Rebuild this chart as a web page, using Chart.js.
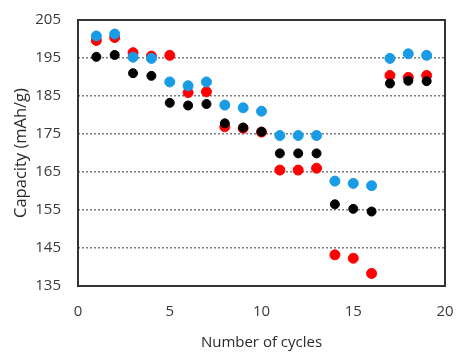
<!DOCTYPE html>
<html>
<head>
<meta charset="utf-8">
<script src="https://cdn.jsdelivr.net/npm/chart.js@4"></script>
<style>
  html, body { margin: 0; padding: 0; background: #fff; }
  #wrap { width: 456px; height: 354px; }
</style>
</head>
<body>
<div id="wrap"><canvas id="chart" width="456" height="354"></canvas></div>
<script>
const cycles = [1, 2, 3, 4, 5, 6, 7, 8, 9, 10, 11, 12, 13, 14, 15, 16, 17, 18, 19];
const blackSeries = [195.3, 195.8, 191.0, 190.3, 183.2, 182.5, 182.9, 177.8, 176.7, 175.6, 169.9, 169.9, 169.9, 156.5, 155.3, 154.6, 188.3, 189.0, 188.9];
const redSeries = [199.6, 200.4, 196.4, 195.5, 195.7, 185.9, 186.1, 176.9, 176.5, 175.5, 165.5, 165.5, 166.0, 143.2, 142.3, 138.3, 190.4, 189.9, 190.4];
const blueSeries = [200.8, 201.3, 195.2, 194.9, 188.7, 187.7, 188.7, 182.6, 181.9, 181.0, 174.6, 174.6, 174.6, 162.6, 162.0, 161.4, 194.9, 196.1, 195.7];
const yTicks = [135, 145, 155, 165, 175, 185, 195, 205];

const toPoints = vals => vals.map((v, i) => ({x: cycles[i], y: v}));

// box round the plot area, like the spreadsheet frame
const frameBox = {
    id: 'frameBox',
    afterDraw(chart) {
        const {ctx, chartArea: a} = chart;
        ctx.save();
        ctx.strokeStyle = '#333';
        ctx.lineWidth = 2;
        ctx.strokeRect(a.left, a.top, a.right - a.left, a.bottom - a.top);
        ctx.restore();
    }
};

const tickFont = {family: 'Open Sans', size: 15};

new Chart(document.getElementById('chart').getContext('2d'), {
    type: 'scatter',
    data: {
        datasets: [
            {label: 'black', data: toPoints(blackSeries), backgroundColor: '#000', borderColor: '#000', pointRadius: 4.5, order: 2},
            {label: 'red', data: toPoints(redSeries), backgroundColor: '#ff0000', borderColor: '#ff0000', pointRadius: 5, order: 3},
            {label: 'blue', data: toPoints(blueSeries), backgroundColor: '#1a9be6', borderColor: '#1a9be6', pointRadius: 5, order: 1}
        ]
    },
    options: {
        responsive: false,
        animation: false,
        layout: {padding: {left: 11, right: 11, top: 20, bottom: 2}},
        plugins: {legend: {display: false}, tooltip: {enabled: false}},
        scales: {
            x: {
                type: 'linear', min: 0, max: 20,
                afterFit: axis => { axis.height = 66; axis.paddingRight = 0; axis.paddingLeft = 0; },
                ticks: {stepSize: 5, color: '#3a3a3a', font: tickFont, padding: 17},
                grid: {display: false, drawTicks: false},
                border: {display: false},
                title: {display: true, text: 'Number of cycles', color: '#2a2a2a', font: {family: 'Open Sans', size: 15}, padding: {top: 0, bottom: 0}}
            },
            y: {
                min: 135, max: 205,
                afterBuildTicks: axis => { axis.ticks = yTicks.map(v => ({value: v})); },
                afterFit: axis => { axis.width = 67; axis.paddingTop = 0; axis.paddingBottom = 0; },
                ticks: {color: '#3a3a3a', font: tickFont, padding: 17},
                grid: {color: '#7a7a7a', lineWidth: 1.5, drawTicks: false},
                border: {display: false, dash: [2, 2]},
                title: {display: true, text: 'Capacity (mAh/g)', color: '#2a2a2a', font: {family: 'Open Sans', size: 16.5}, padding: {top: 0, bottom: 0}}
            }
        }
    },
    plugins: [frameBox]
});
</script>
</body>
</html>
